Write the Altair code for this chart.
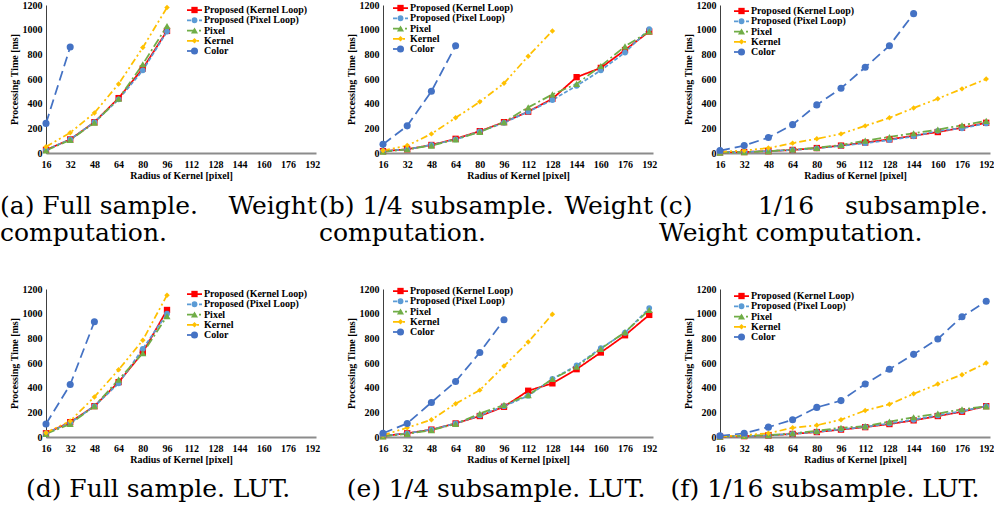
import altair as alt
import pandas as pd

radii = [16, 32, 48, 64, 80, 96, 112, 128, 144, 160, 176, 192]
series = ["Proposed (Kernel Loop)", "Proposed (Pixel Loop)", "Pixel", "Kernel", "Color"]
colors = ["#FF0000", "#5B9BD5", "#70AD47", "#FFC000", "#4472C4"]
dashes = [[1, 0], [4, 2], [9, 3, 2, 3], [7, 3, 2, 3, 2, 3], [10, 5]]
shapes = ["square", "circle", "triangle-up", "diamond", "circle"]
sizes = [40, 34, 50, 30, 50]
y_ticks = [0, 200, 400, 600, 800, 1000, 1200]

# (a) Full sample, weight computation
a_kernel_loop = [25, 110, 250, 445, 685, 990]
a_pixel_loop = [25, 110, 250, 435, 670, 985]
a_pixel = [20, 105, 245, 440, 720, 1030]
a_kernel = [50, 165, 325, 560, 855, 1180]
a_color = [240, 860]

# (b) 1/4 subsample, weight computation
b_kernel_loop = [15, 30, 65, 115, 177, 250, 335, 440, 615, 690, 835, 985]
b_pixel_loop = [15, 30, 65, 110, 175, 245, 335, 430, 545, 670, 815, 1005]
b_pixel = [10, 30, 60, 110, 170, 250, 370, 475, 560, 705, 865, 985]
b_kernel = [20, 60, 155, 285, 415, 565, 785, 990]
b_color = [70, 220, 500, 870]

# (c) 1/16 subsample, weight computation
c_kernel_loop = [5, 8, 15, 25, 40, 60, 85, 110, 140, 170, 205, 245]
c_pixel_loop = [5, 8, 15, 25, 38, 58, 80, 105, 135, 180, 200, 240]
c_pixel = [3, 7, 14, 28, 42, 65, 100, 130, 160, 190, 225, 260]
c_kernel = [10, 20, 40, 80, 115, 155, 220, 285, 365, 440, 520, 600]
c_color = [20, 60, 125, 230, 390, 525, 695, 870, 1130]

# (d) Full sample, LUT
d_kernel_loop = [30, 120, 250, 445, 685, 1030]
d_pixel_loop = [30, 115, 250, 435, 715, 1000]
d_pixel = [25, 105, 250, 465, 680, 980]
d_kernel = [35, 130, 325, 545, 785, 1150]
d_color = [105, 425, 935]

# (e) 1/4 subsample, LUT
e_kernel_loop = [8, 30, 60, 110, 170, 245, 375, 435, 550, 685, 825, 990]
e_pixel_loop = [8, 30, 60, 110, 175, 250, 335, 470, 580, 720, 845, 1045]
e_pixel = [5, 25, 55, 105, 190, 260, 340, 470, 570, 715, 850, 1030]
e_kernel = [15, 75, 140, 270, 380, 575, 770, 995]
e_color = [30, 110, 280, 450, 685, 950]

# (f) 1/16 subsample, LUT
f_kernel_loop = [3, 7, 13, 25, 40, 60, 80, 105, 135, 170, 205, 250]
f_pixel_loop = [3, 7, 13, 25, 42, 62, 82, 110, 140, 175, 210, 250]
f_pixel = [3, 8, 15, 30, 50, 75, 88, 125, 160, 190, 225, 248]
f_kernel = [5, 15, 30, 75, 95, 140, 215, 265, 350, 430, 505, 600]
f_color = [10, 30, 80, 140, 240, 295, 430, 550, 670, 795, 975, 1100]

captions_a = ["(a) Full sample.", "Weight", "computation."]
captions_b = ["(b) 1/4 subsample.", "Weight", "computation."]
captions_c = ["(c)", "1/16", "subsample.", "Weight computation."]
captions_d = ["(d) Full sample. LUT."]
captions_e = ["(e) 1/4 subsample. LUT."]
captions_f = ["(f) 1/16 subsample. LUT."]

FONT = "'Liberation Serif', 'Times New Roman', serif"
CAP_FONT = "'DejaVu Serif', serif"
W, H = 270, 148
CAP_SIZE = 25


def caption(text, x, y, align):
    return alt.Chart(pd.DataFrame({"t": [text]})).mark_text(
        font=CAP_FONT, fontSize=CAP_SIZE, align=align, baseline="middle", color="black"
    ).encode(text="t:N", x=alt.value(x), y=alt.value(y))


def panel(values, leg_x, leg_top, caps):
    rows = []
    for s, vals in zip(series, values):
        for r, v in zip(radii, vals):
            rows.append({"radius": r, "time": v, "series": s})
    df = pd.DataFrame(rows)
    xscale = alt.Scale(domain=[16, 194.5], nice=False, zero=False)
    yscale = alt.Scale(domain=[0, 1200], nice=False)
    xaxis = alt.Axis(values=radii, title="Radius of Kernel [pixel]", format="d",
                     labelFont=FONT, labelFontWeight="bold", labelFontSize=10, labelColor="black",
                     titleFont=FONT, titleFontWeight="bold", titleFontSize=10, titleColor="black",
                     ticks=False, grid=False, domainColor="#8C8C8C", domainWidth=2,
                     labelPadding=6, titlePadding=1, labelFlush=False, labelOverlap=False)
    yaxis = alt.Axis(values=y_ticks, title="Processing Time [ms]", format="d",
                     labelFont=FONT, labelFontWeight="bold", labelFontSize=10, labelColor="black",
                     titleFont=FONT, titleFontWeight="bold", titleFontSize=10, titleColor="black",
                     ticks=False, grid=False, domainColor="#404040", domainWidth=1,
                     labelPadding=4, titlePadding=3, labelFlush=False, labelOverlap=False)
    xenc = alt.X("radius:Q", scale=xscale, axis=xaxis)
    yenc = alt.Y("time:Q", scale=yscale, axis=yaxis)
    color = alt.Color("series:N", scale=alt.Scale(domain=series, range=colors), legend=None)
    dash = alt.StrokeDash("series:N", scale=alt.Scale(domain=series, range=dashes), legend=None)
    shape = alt.Shape("series:N", scale=alt.Scale(domain=series, range=shapes), legend=None)
    size = alt.Size("series:N", scale=alt.Scale(type="ordinal", domain=series, range=sizes), legend=None)

    base = alt.Chart(df)
    lines = base.mark_line(strokeWidth=1.75).encode(x=xenc, y=yenc, color=color, strokeDash=dash)
    pts = base.mark_point(filled=True, opacity=1).encode(x=xenc, y=yenc, color=color, shape=shape, size=size)
    data_layer = alt.layer(lines, pts)

    leg_df = pd.DataFrame({"series": series, "row": list(range(len(series)))})
    ly = alt.Y("row:Q", scale=alt.Scale(domain=[0, 4], range=[leg_top, leg_top + 41], nice=False, zero=False), axis=None)
    lbase = alt.Chart(leg_df)
    lrule = lbase.mark_rule(strokeWidth=1.75).encode(
        x=alt.value(leg_x), x2=alt.value(leg_x + 15), y=ly, color=color, strokeDash=dash)
    lpts = lbase.mark_point(filled=True, opacity=1).encode(
        x=alt.value(leg_x + 7.5), y=ly, color=color, shape=shape, size=size)
    ltxt = lbase.mark_text(font=FONT, fontWeight="bold", fontSize=10, align="left",
                           baseline="middle", color="black").encode(
        x=alt.value(leg_x + 17), y=ly, text="series:N")
    legend_layer = alt.layer(lrule, lpts, ltxt)

    layers = [data_layer, legend_layer] + [caption(*c) for c in caps]
    return alt.layer(*layers).resolve_scale(y="independent").properties(width=W, height=H)


pa = panel([a_kernel_loop, a_pixel_loop, a_pixel, a_kernel, a_color], 141, 5,
           [(captions_a[0], -46, 201, "left"), (captions_a[1], 271, 201, "right"),
            (captions_a[2], -46, 228, "left")])
pb = panel([b_kernel_loop, b_pixel_loop, b_pixel, b_kernel, b_color], 10, 3,
           [(captions_b[0], -64, 201, "left"), (captions_b[1], 270, 201, "right"),
            (captions_b[2], -64, 228, "left")])
pc = panel([c_kernel_loop, c_pixel_loop, c_pixel, c_kernel, c_color], 14, 6,
           [(captions_c[0], -61, 201, "left"), (captions_c[1], 66, 201, "center"),
            (captions_c[2], 268, 201, "right"), (captions_c[3], -61, 228, "left")])
pd_ = panel([d_kernel_loop, d_pixel_loop, d_pixel, d_kernel, d_color], 141, 5,
            [(captions_d[0], 112, 200, "center")])
pe = panel([e_kernel_loop, e_pixel_loop, e_pixel, e_kernel, e_color], 10, 2,
           [(captions_e[0], 113, 200, "center")])
pf = panel([f_kernel_loop, f_pixel_loop, f_pixel, f_kernel, f_color], 14, 7,
           [(captions_f[0], 105, 200, "center")])

chart = alt.concat(pa, pb, pc, pd_, pe, pf, columns=3,
                   spacing={"row": 136, "column": 67}, bounds="flush").properties(
    padding={"left": 0, "top": 0, "right": 0, "bottom": 0},
    background="white"
).configure_view(stroke=None)

chart.save("out.html", embed_options={"renderer": "svg", "actions": False})
